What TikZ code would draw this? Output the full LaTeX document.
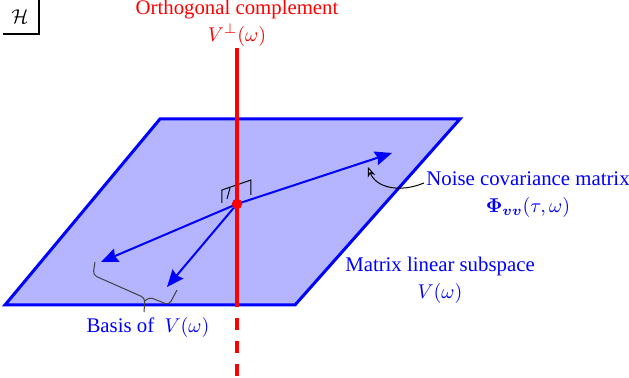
\documentclass[tikz,border=0pt]{standalone}
\usepackage{fontspec}
\setmainfont{Liberation Serif}
\usepackage{amsmath}
\usepackage{bm}
\usetikzlibrary{arrows.meta}
\definecolor{planefill}{RGB}{180,180,255}
\tikzset{
  basisarrow/.style={draw=blue,line width=1pt,-{Stealth[length=8.5pt,width=7pt,inset=1pt]}},
  bluelabel/.style={text=blue,align=center,inner sep=1pt},
}
\begin{document}
\begin{tikzpicture}[x=0.5pt,y=-0.5pt,font=\fontsize{10.4}{12.5}\selectfont]
\useasboundingbox (0,0) rectangle (629,378);
\coordinate (A) at (160,119);
\coordinate (B) at (460,119);
\coordinate (C) at (295,305);
\coordinate (D) at (5,305);
\coordinate (O) at (237,204);
\coordinate (T) at (237,48);
\coordinate (M) at (237,307);
\coordinate (Bot) at (237,378);
\coordinate (E1) at (392,153);
\coordinate (E2) at (101,262);
\coordinate (E3) at (167,287);

% subspace
\draw[blue,line width=1.5pt,fill=planefill] (A) -- (B) -- (C) -- (D) -- cycle;

% right angle mark
\draw[black,line width=0.5pt] (222,203) -- (222,190) -- (251,180) -- (251,195);
\draw[black,line width=0.5pt] (230,188) -- (227,199);

% vectors
\draw[basisarrow] (O) -- (E1);
\draw[basisarrow] (O) -- (E2);
\draw[basisarrow] (O) -- (E3);

% orthogonal complement
\draw[red,line width=2pt] (T) -- (M);
\draw[red,line width=2pt,dash pattern=on 6pt off 5.5pt,dash phase=6pt] (M) -- (Bot);
\fill[red] (O) circle (2.6pt);

% brace
\draw[black!75,line width=0.5pt,rounded corners=2pt] (95,262) -- (93,275) -- (145,298) -- (144,312);
\draw[black!75,line width=0.5pt,rounded corners=2pt] (145,301) -- (149,297) -- (169,305) -- (177,290);

\node[bluelabel] (noise) at (528,195) {Noise covariance matrix\\[1pt] $\bm{\Phi}_{\bm{vv}}(\tau,\omega)$};
\draw[black,line width=0.5pt,-{Stealth[length=5pt,width=4pt,open]}] (noise.north west |- 0,183) .. controls (400,193) and (376,188) .. (368,167);
\node[bluelabel] (subspace) at (440,280) {Matrix linear subspace\\[1pt] $V(\omega)$};
\node[bluelabel] (basis) at (148,328) {Basis of~ $V(\omega)$};
\node[red,align=center,inner sep=1pt] (ortho) at (237,23) {Orthogonal complement\\[1pt] $V^{\perp}(\omega)$};

% Hilbert space
\draw[black,line width=0.6pt] (39,0) -- (39,34) -- (3,34);
\node (hs) at (20,17) {$\mathcal{H}$};
\end{tikzpicture}
\end{document}
